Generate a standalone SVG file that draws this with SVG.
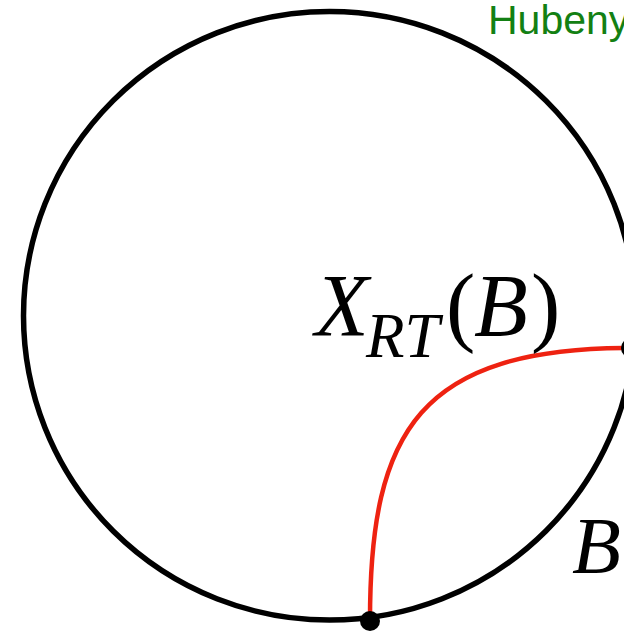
<svg xmlns="http://www.w3.org/2000/svg" width="624" height="632" viewBox="0 0 624 632">
<style>
.math{font-family:"Liberation Serif","Times New Roman",serif;fill:#000}
.it{font-style:italic}
.lbl{font-family:"Liberation Sans",Arial,sans-serif;fill:#138013}
</style>
<rect width="624" height="632" fill="#fff"/>
<g id="circle">
<ellipse cx="329.5" cy="315.8" rx="306" ry="304.3" fill="none" stroke="#000" stroke-width="5.5"/>
</g>
<g id="connectors">
<path d="M370,620 C370,430 420,348 631,348" fill="none" stroke="#ee2211" stroke-width="4.5"/>
</g>
<g id="point-bottom"><circle cx="370" cy="621" r="10" fill="#000"/></g>
<g id="point-right"><circle cx="631" cy="348" r="10" fill="#000"/></g>
<g id="label-xrt">
<text class="math" font-size="88" y="335"><tspan class="it" x="315">X</tspan><tspan class="it" x="366" y="357" font-size="63">RT</tspan><tspan x="446" y="335">(</tspan><tspan class="it" x="474">B</tspan><tspan x="531">)</tspan></text>
</g>
<g id="label-b">
<text class="math it" font-size="80" x="572" y="573">B</text>
</g>
<g id="label-hubeny">
<text class="lbl" font-size="41" x="488" y="34">Hubeny</text>
</g>
</svg>
